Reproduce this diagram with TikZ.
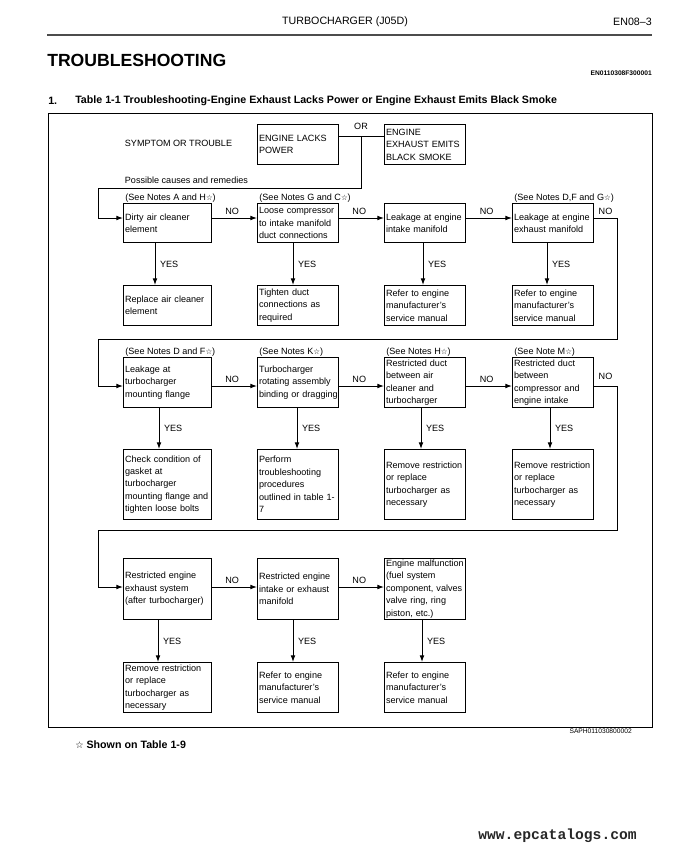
\documentclass[tikz,border=0pt]{standalone}
\usepackage{fontspec}
\setmainfont{Liberation Sans}
\newfontfamily\djv{DejaVu Sans}
\newfontfamily\monob{Liberation Mono}
\usetikzlibrary{arrows.meta}
\newcommand\wst{{\djv\fontsize{5.6}{6}\selectfont\char"2606}}
\begin{document}
\begin{tikzpicture}[x=0.75pt,y=-0.75pt,
  lbl/.style={font=\fontsize{6.8}{9.3}\selectfont, inner sep=0.5pt},
  note/.style={font=\fontsize{6.8}{9.3}\selectfont, inner sep=0.6pt, anchor=south west, xshift=1pt},
  box/.style={draw, line width=0.75pt, rectangle, align=left, font=\fontsize{6.8}{9.3}\selectfont, inner xsep=1.2pt, inner ysep=0.5pt, anchor=north west},
  colA/.style={text width=63.6pt, minimum width=66pt},
  colB/.style={text width=58.35pt, minimum width=60.75pt},
  ln/.style={line width=0.7pt},
  arr/.style={line width=0.7pt, -{Latex[length=5pt,width=3.6pt]}}]
\useasboundingbox (0,0) rectangle (687,853);
% header
\node[font=\fontsize{8}{9}\selectfont, inner sep=0pt] (hdr) at (345,22) {TURBOCHARGER (J05D)};
\node[font=\fontsize{8}{9}\selectfont, inner sep=0pt, anchor=east] (pg) at (652,22) {EN08–3};
\draw[line width=1.5pt, black!70] (47,35) -- (652,35);
\node[font=\bfseries\fontsize{13.2}{15}\selectfont, inner sep=0pt, anchor=west] (ttl) at (47,60) {TROUBLESHOOTING};
\node[font=\bfseries\fontsize{5}{6}\selectfont, inner sep=0pt, anchor=east] (code1) at (652,73) {EN0110308F300001};
\node[font=\bfseries\fontsize{8}{9}\selectfont, inner sep=0pt, anchor=west] (num) at (48,101) {1.};
\node[font=\bfseries\fontsize{8}{9}\selectfont, inner sep=0pt, anchor=west] (tbl) at (75,101) {Table 1-1 Troubleshooting-Engine Exhaust Lacks Power or Engine Exhaust Emits Black Smoke};
% frame
\draw[line width=0.75pt] (48,113) rectangle (652,727);
% symptom row
\node[lbl, anchor=west] (sym) at (124,143) {SYMPTOM OR TROUBLE};
\node[box, colB, minimum height=30pt] (P) at (257,124) {ENGINE LACKS\\POWER};
\node[box, colB, minimum height=30pt] (S) at (384,124) {ENGINE\\EXHAUST EMITS\\BLACK SMOKE};
\node[lbl] (or) at (361,126) {OR};
\node[lbl, anchor=west] (pcr) at (124,180) {Possible causes and remedies};
% row 1
\node[box, colA, minimum height=29.25pt] (A1) at (123,203) {Dirty air cleaner\\element};
\node[box, colB, minimum height=29.25pt] (A2) at (257,203) {Loose compressor\\to intake manifold\\duct connections};
\node[box, colB, minimum height=29.25pt] (A3) at (384,203) {Leakage at engine\\intake manifold};
\node[box, colB, minimum height=29.25pt] (A4) at (512,203) {Leakage at engine\\exhaust manifold};
\node[note] (nA1) at (A1.north west) {(See Notes A and H\wst)};
\node[note] (nA2) at (A2.north west) {(See Notes G and C\wst)};
\node[note] (nA4) at (A4.north west) {(See Notes D,F and G\wst)};
\node[box, colA, minimum height=30pt] (RA1) at (123,285) {Replace air cleaner\\element};
\node[box, colB, minimum height=30pt] (RA2) at (257,285) {Tighten duct\\connections as\\required};
\node[box, colB, minimum height=30pt] (RA3) at (384,285) {Refer to engine\\manufacturer's\\service manual};
\node[box, colB, minimum height=30pt] (RA4) at (512,285) {Refer to engine\\manufacturer's\\service manual};
% row 2
\node[box, colA, minimum height=37.5pt] (B1) at (123,357) {Leakage at\\turbocharger\\mounting flange};
\node[box, colB, minimum height=37.5pt] (B2) at (257,357) {Turbocharger\\rotating assembly\\\mbox{binding or dragging}};
\node[box, colB, minimum height=37.5pt] (B3) at (384,357) {Restricted duct\\between air\\cleaner and\\turbocharger};
\node[box, colB, minimum height=37.5pt] (B4) at (512,357) {Restricted duct\\between\\compressor and\\engine intake};
\node[note] (nB1) at (B1.north west) {(See Notes D and F\wst)};
\node[note] (nB2) at (B2.north west) {(See Notes K\wst)};
\node[note] (nB3) at (B3.north west) {(See Notes H\wst)};
\node[note] (nB4) at (B4.north west) {(See Note M\wst)};
\node[box, colA, minimum height=52.5pt] (RB1) at (123,449) {Check condition of\\gasket at\\turbocharger\\mounting flange and\\tighten loose bolts};
\node[box, colB, minimum height=52.5pt] (RB2) at (257,449) {Perform\\troubleshooting\\procedures\\outlined in table 1-\\7};
\node[box, colB, minimum height=52.5pt] (RB3) at (384,449) {Remove restriction\\or replace\\turbocharger as\\necessary};
\node[box, colB, minimum height=52.5pt] (RB4) at (512,449) {Remove restriction\\or replace\\turbocharger as\\necessary};
% row 3
\node[box, colA, minimum height=45.75pt] (C1) at (123,558) {Restricted engine\\exhaust system\\(after turbocharger)};
\node[box, colB, minimum height=45.75pt] (C2) at (257,558) {Restricted engine\\intake or exhaust\\manifold};
\node[box, colB, minimum height=45.75pt] (C3) at (384,558) {Engine malfunction\\(fuel system\\component, valves\\valve ring, ring\\piston, etc.)};
\node[box, colA, minimum height=37.5pt] (RC1) at (123,662) {Remove restriction\\or replace\\turbocharger as\\necessary};
\node[box, colB, minimum height=37.5pt] (RC2) at (257,662) {Refer to engine\\manufacturer's\\service manual};
\node[box, colB, minimum height=37.5pt] (RC3) at (384,662) {Refer to engine\\manufacturer's\\service manual};
% coordinates
\coordinate (r1) at (0,218);
\coordinate (r2) at (0,386);
\coordinate (r3) at (0,587);
\coordinate (orj) at (361,136);
\coordinate (k1) at (361,188);
\coordinate (k2) at (98,188);
\coordinate (k3) at (617,339);
\coordinate (k4) at (98,339);
\coordinate (k5) at (617,530);
\coordinate (k6) at (98,530);
% symptom connectors
\draw[ln] (P.east |- orj) -- (S.west |- orj);
\draw[arr] (orj) -- (k1) -- (k2) |- (A1.west |- r1);
% row 1 NO
\draw[arr] (A1.east |- r1) -- node[lbl, above=2pt, pos=0.45] {NO} (A2.west |- r1);
\draw[arr] (A2.east |- r1) -- node[lbl, above=2pt, pos=0.45] {NO} (A3.west |- r1);
\draw[arr] (A3.east |- r1) -- node[lbl, above=2pt, pos=0.45] {NO} (A4.west |- r1);
\draw[arr] (A4.east |- r1) -- node[lbl, above=2pt] {NO} (k3 |- r1) -- (k3) -- (k4) |- (B1.west |- r2);
% row 1 YES
\draw[arr] (A1.south -| 155,0) -- node[lbl, right=3pt] {YES} (RA1.north -| 155,0);
\draw[arr] (A2.south -| 293,0) -- node[lbl, right=3pt] {YES} (RA2.north -| 293,0);
\draw[arr] (A3.south -| 423,0) -- node[lbl, right=3pt] {YES} (RA3.north -| 423,0);
\draw[arr] (A4.south -| 547,0) -- node[lbl, right=3pt] {YES} (RA4.north -| 547,0);
% row 2 NO
\draw[arr] (B1.east |- r2) -- node[lbl, above=2pt, pos=0.45] {NO} (B2.west |- r2);
\draw[arr] (B2.east |- r2) -- node[lbl, above=2pt, pos=0.45] {NO} (B3.west |- r2);
\draw[arr] (B3.east |- r2) -- node[lbl, above=2pt, pos=0.45] {NO} (B4.west |- r2);
\draw[arr] (B4.east |- r2) -- node[lbl, above=4pt] {NO} (k5 |- r2) -- (k5) -- (k6) |- (C1.west |- r3);
% row 2 YES
\draw[arr] (B1.south -| 159,0) -- node[lbl, right=3pt] {YES} (RB1.north -| 159,0);
\draw[arr] (B2.south -| 297,0) -- node[lbl, right=3pt] {YES} (RB2.north -| 297,0);
\draw[arr] (B3.south -| 421,0) -- node[lbl, right=3pt] {YES} (RB3.north -| 421,0);
\draw[arr] (B4.south -| 550,0) -- node[lbl, right=3pt] {YES} (RB4.north -| 550,0);
% row 3 NO
\draw[arr] (C1.east |- r3) -- node[lbl, above=2pt, pos=0.45] {NO} (C2.west |- r3);
\draw[arr] (C2.east |- r3) -- node[lbl, above=2pt, pos=0.45] {NO} (C3.west |- r3);
% row 3 YES
\draw[arr] (C1.south -| 158,0) -- node[lbl, right=3pt] {YES} (RC1.north -| 158,0);
\draw[arr] (C2.south -| 293,0) -- node[lbl, right=3pt] {YES} (RC2.north -| 293,0);
\draw[arr] (C3.south -| 422,0) -- node[lbl, right=3pt] {YES} (RC3.north -| 422,0);
% footer
\node[font=\fontsize{5}{6}\selectfont, inner sep=0pt, anchor=east] (code2) at (632,731) {SAPH011030800002};
\node[font=\bfseries\fontsize{8}{9}\selectfont, inner sep=0pt, anchor=west] (foot) at (75,745) {{\djv\fontsize{7}{8}\selectfont\char"2606}\ Shown on Table 1-9};
\node[font=\monob\bfseries\fontsize{11}{12}\selectfont, inner sep=0pt, anchor=east, black!85] (www) at (637,836) {www.epcatalogs.com};
\end{tikzpicture}
\end{document}
